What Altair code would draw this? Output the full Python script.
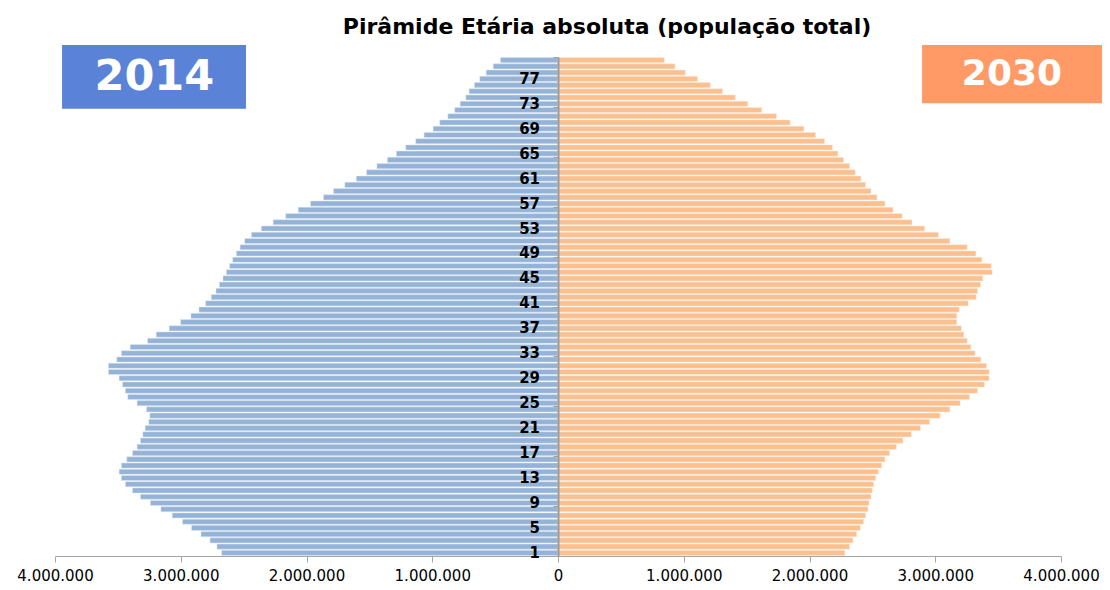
import altair as alt
import pandas as pd

# Ages 1..80 (bottom to top)
ages = list(range(1, 81))

# Population 2014 (millions), age 1..80
pop_2014 = [
    2.675, 2.712, 2.767, 2.839, 2.914, 2.986, 3.068, 3.158, 3.241, 3.320,
    3.384, 3.440, 3.472, 3.490, 3.472, 3.429, 3.384, 3.347, 3.320, 3.301,
    3.283, 3.254, 3.246, 3.272, 3.347, 3.421, 3.440, 3.463, 3.490, 3.575,
    3.575, 3.509, 3.472, 3.402, 3.264, 3.195, 3.092, 3.001, 2.919, 2.855,
    2.802, 2.757, 2.720, 2.693, 2.664, 2.637, 2.611, 2.587, 2.558, 2.528,
    2.491, 2.438, 2.359, 2.265, 2.165, 2.066, 1.968, 1.865, 1.785, 1.695,
    1.604, 1.522, 1.440, 1.357, 1.285, 1.211, 1.131, 1.065, 0.993, 0.940,
    0.876, 0.821, 0.778, 0.733, 0.707, 0.664, 0.622, 0.571, 0.515, 0.457,
]

# Population 2030 (millions), age 1..80
pop_2030 = [
    2.281, 2.319, 2.345, 2.375, 2.404, 2.430, 2.446, 2.465, 2.473, 2.489,
    2.499, 2.510, 2.526, 2.547, 2.574, 2.600, 2.637, 2.691, 2.744, 2.810,
    2.882, 2.954, 3.039, 3.116, 3.198, 3.272, 3.336, 3.392, 3.429, 3.429,
    3.408, 3.363, 3.317, 3.283, 3.254, 3.227, 3.208, 3.171, 3.171, 3.190,
    3.262, 3.325, 3.336, 3.360, 3.378, 3.453, 3.445, 3.371, 3.323, 3.254,
    3.116, 3.025, 2.916, 2.815, 2.736, 2.664, 2.600, 2.537, 2.489, 2.446,
    2.409, 2.364, 2.319, 2.271, 2.226, 2.183, 2.120, 2.048, 1.955, 1.846,
    1.737, 1.620, 1.509, 1.410, 1.309, 1.211, 1.110, 1.012, 0.930, 0.845,
]

x_ticks = [-4e6, -3e6, -2e6, -1e6, 0, 1e6, 2e6, 3e6, 4e6]
age_labels = list(range(1, 81, 4))
age_tick_marks = [a + 0.5 for a in range(0, 81)]

title_text = "Pirâmide Etária absoluta (população total)"

# Year badges (annotation)
badge_years = ["2014", "2030"]
badge_colors = ["#5A83D8", "#FF9966"]

W, H = 1006, 499

df = pd.DataFrame({
    "age": ages,
    "p2014": [-v * 1e6 for v in pop_2014],
    "p2030": [v * 1e6 for v in pop_2030],
})
df["lo"] = df["age"] - 0.41
df["hi"] = df["age"] + 0.41
df["zero"] = 0

lab_df = pd.DataFrame({"age": age_labels, "zero": 0})

badges = pd.DataFrame({
    "year": badge_years,
    "x1": [-3.944e6, 2.895e6],
    "x2": [-2.481e6, 4.326e6],
    "y1": [72.2, 73.1],
    "y2": [82.42, 82.42],
    "tx": [-3.21e6, 3.61e6],
    "ty": [77.3, 77.8],
    "size": [43, 36],
    "color": badge_colors,
})

title_df = pd.DataFrame({"text": [title_text], "x": [0.39e6], "y": [85.25]})

xscale = alt.Scale(domain=[-4e6, 4e6], nice=False, zero=False)
yscale = alt.Scale(domain=[0.5, 80.5], nice=False, zero=False)

x_axis = alt.Axis(
    values=x_ticks,
    labelExpr="replace(replace(format(abs(datum.value), ','), ',', '.'), ',', '.')",
    title=None, grid=False, domainColor="#A6A6A6", tickColor="#A6A6A6",
    tickSize=6, labelFont="DejaVu Sans", labelFontSize=15, labelColor="#000000",
    labelPadding=6, labelOverlap=False, labelFlush=False,
)
y_axis = alt.Axis(
    values=age_tick_marks, labels=False,
    title=None, grid=False, offset=-W / 2, zindex=1,
    domainColor="#9A9A9A", domainWidth=2, tickColor="#A0A0A0", tickSize=5,
)

bars14 = alt.Chart(df).mark_rect(color="#95B3D7", stroke="#DCE6F2", strokeWidth=0.5).encode(
    x=alt.X("p2014:Q", scale=xscale, axis=x_axis),
    x2="zero:Q",
    y=alt.Y("lo:Q", scale=yscale, axis=y_axis),
    y2="hi:Q",
)
bars30 = alt.Chart(df).mark_rect(color="#FAC090", stroke="#FDE9D9", strokeWidth=0.5).encode(
    x=alt.X("zero:Q", scale=xscale),
    x2="p2030:Q",
    y=alt.Y("lo:Q", scale=yscale),
    y2="hi:Q",
)

age_text = alt.Chart(lab_df).mark_text(
    font="DejaVu Sans", fontWeight="bold", fontSize=15, color="#000000",
    align="right", baseline="middle", dx=-18
).encode(
    x=alt.X("zero:Q", scale=xscale),
    y=alt.Y("age:Q", scale=yscale),
    text="age:Q",
)

boxes = alt.Chart(badges).mark_rect().encode(
    x=alt.X("x1:Q", scale=xscale),
    x2="x2:Q",
    y=alt.Y("y1:Q", scale=yscale),
    y2="y2:Q",
    color=alt.Color("color:N", scale=None),
)
labels = alt.Chart(badges).mark_text(
    font="DejaVu Sans", fontWeight="bold", color="white", align="center", baseline="middle"
).encode(
    x=alt.X("tx:Q", scale=xscale),
    y=alt.Y("ty:Q", scale=yscale),
    text="year:N",
    size=alt.Size("size:Q", scale=None),
)

title_mark = alt.Chart(title_df).mark_text(
    font="DejaVu Sans", fontWeight="bold", fontSize=22, color="#000000",
    align="center", baseline="middle"
).encode(
    x=alt.X("x:Q", scale=xscale),
    y=alt.Y("y:Q", scale=yscale),
    text="text:N",
)

chart = alt.layer(bars14, bars30, age_text, boxes, labels, title_mark).properties(
    width=W, height=H,
    autosize=alt.AutoSizeParams(type="none"),
    padding={"left": 47, "top": 49, "right": 41, "bottom": 28},
).configure_view(stroke=None)

chart.save("out.html", embed_options={"renderer": "svg", "actions": False})
